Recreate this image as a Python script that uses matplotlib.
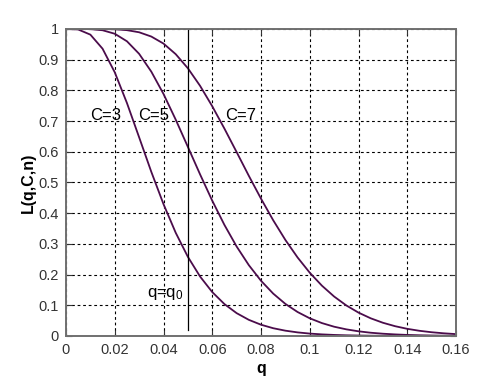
import numpy as np
import matplotlib.pyplot as plt

# q values and operating characteristic L(q,C,n)
q = [0.000, 0.005, 0.010, 0.015, 0.020, 0.025, 0.030, 0.035, 0.040, 0.045,
     0.050, 0.055, 0.060, 0.065, 0.070, 0.075, 0.080, 0.085, 0.090, 0.095,
     0.100, 0.105, 0.110, 0.115, 0.120, 0.125, 0.130, 0.135, 0.140, 0.145,
     0.150, 0.155, 0.160]
L_c3 = [1.0000, 0.9984, 0.9816, 0.9358, 0.8590, 0.7589, 0.6472, 0.5346, 0.4295, 0.3364,
        0.2578, 0.1937, 0.1430, 0.1039, 0.0744, 0.0526, 0.0367, 0.0253, 0.0173, 0.0117,
        0.0078, 0.0052, 0.0034, 0.0022, 0.0015, 0.0009, 0.0006, 0.0004, 0.0002, 0.0001,
        0.0001, 0.0001, 0.0000]
L_c5 = [1.0000, 1.0000, 0.9995, 0.9959, 0.9845, 0.9600, 0.9191, 0.8610, 0.7884, 0.7049,
        0.6160, 0.5265, 0.4407, 0.3617, 0.2915, 0.2308, 0.1799, 0.1381, 0.1045, 0.0781,
        0.0576, 0.0420, 0.0302, 0.0216, 0.0152, 0.0106, 0.0074, 0.0051, 0.0034, 0.0023,
        0.0016, 0.0010, 0.0007]
L_c7 = [1.0000, 1.0000, 1.0000, 0.9999, 0.9991, 0.9962, 0.9893, 0.9754, 0.9525, 0.9181,
        0.8721, 0.8149, 0.7483, 0.6754, 0.5990, 0.5218, 0.4473, 0.3770, 0.3128, 0.2558,
        0.2061, 0.1638, 0.1285, 0.0995, 0.0761, 0.0576, 0.0431, 0.0319, 0.0233, 0.0169,
        0.0122, 0.0087, 0.0061]
q0 = 0.05

plt.rcParams['font.family'] = ['Liberation Sans', 'DejaVu Sans']
plt.rcParams['mathtext.fontset'] = 'custom'
plt.rcParams['mathtext.rm'] = 'Liberation Sans'
plt.rcParams['mathtext.it'] = 'Liberation Sans'

fig = plt.figure(figsize=(5.03, 3.77), dpi=100)
ax = fig.add_axes([0.1312, 0.1088, 0.7754, 0.8143])

col = '#4b0c4b'
for L in (L_c3, L_c5, L_c7):
    ax.plot(q, L, color=col, linewidth=1.3)

# q = q0 marker line
ax.plot([q0, q0], [0.02, 1.0], color='black', linewidth=0.9)

ax.text(0.0098, 0.704, 'C=3', fontsize=12, ha='left', va='baseline')
ax.text(0.0295, 0.704, 'C=5', fontsize=12, ha='left', va='baseline')
ax.text(0.0652, 0.704, 'C=7', fontsize=12, ha='left', va='baseline')
ax.text(0.0332, 0.128, r'q=q$_\mathregular{0}$', fontsize=12, ha='left', va='baseline')

ax.set_xlim(0, 0.16)
ax.set_ylim(0, 1)
ax.set_xticks(np.arange(0, 0.161, 0.02))
ax.set_yticks(np.arange(0, 1.01, 0.1))
ax.set_xticklabels(['0', '0.02', '0.04', '0.06', '0.08', '0.1', '0.12', '0.14', '0.16'])
ax.set_yticklabels(['0', '0.1', '0.2', '0.3', '0.4', '0.5', '0.6', '0.7', '0.8', '0.9', '1'])
ax.tick_params(direction='in', length=4, labelsize=10.5, colors='#333333', pad=5,
               top=True, right=True)
ax.grid(True, color='black', linestyle=(0, (2.5, 2.5)), linewidth=0.8)
for s in ax.spines.values():
    s.set_color('#707070')
    s.set_linewidth(1.4)

ax.set_xlabel('q', fontsize=11.5, fontweight='bold', labelpad=3)
ax.set_ylabel('L(q,C,n)', fontsize=11.5, fontweight='bold', labelpad=2)

plt.savefig('out.png', dpi=100)
